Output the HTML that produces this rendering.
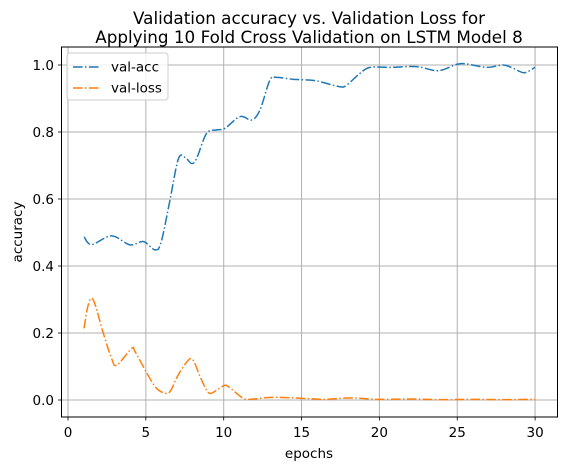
<!DOCTYPE html>
<html><head><meta charset="utf-8"><style>
html,body{margin:0;padding:0;background:#fff;}
svg text{font-family:"DejaVu Sans","Liberation Sans",sans-serif;}
</style></head><body>
<svg id="chart" width="570" height="470" xmlns="http://www.w3.org/2000/svg">
<rect x="0" y="0" width="570" height="470" fill="#fff"/>
<g id="grid"></g>
<g id="series"></g>
<rect x="61.5" y="47" width="496" height="370" fill="none" stroke="#000" stroke-width="1"/>
<g id="ticks"></g>
<text x="309" y="24" font-size="16.8" text-anchor="middle">Validation accuracy vs. Validation Loss for</text>
<text x="309" y="43" font-size="16.8" text-anchor="middle">Applying 10 Fold Cross Validation on LSTM Model 8</text>
<text x="309" y="458" font-size="13.5" text-anchor="middle">epochs</text>
<text x="22" y="232" font-size="13.5" text-anchor="middle" transform="rotate(-90 22 232)">accuracy</text>
<g>
<rect x="67" y="53" width="101" height="47" rx="3" fill="#fff" fill-opacity="0.8" stroke="#ccc"/>
<line x1="73" y1="67" x2="101" y2="67" stroke="#1f77b4" stroke-width="1.5" stroke-dasharray="9.6 2.4 1.5 2.4"/>
<text x="111" y="71.5" font-size="13.5">val-acc</text>
<line x1="73" y1="88" x2="101" y2="88" stroke="#ff7f0e" stroke-width="1.5" stroke-dasharray="9.6 2.4 1.5 2.4"/>
<text x="111" y="92.5" font-size="13.5">val-loss</text>
</g>
</svg>
<script>
const accEpochs=[1.03,1.52,2.8,3.98,4.84,5.6,5.99,6.55,7.09,7.52,7.94,8.26,8.9,9.54,10.08,11.05,11.8,12.33,12.97,13.4,14.5,15.56,16.2,17.47,17.9,18.75,19.4,20.7,22.4,23.77,24.96,25.6,26.9,27.95,28.6,29.3,30];
const accValues=[0.487,0.464,0.49,0.463,0.473,0.448,0.473,0.597,0.72,0.724,0.706,0.721,0.796,0.806,0.811,0.846,0.836,0.866,0.955,0.963,0.957,0.955,0.950,0.935,0.94,0.975,0.993,0.993,0.995,0.983,1.002,1.003,0.993,1.0,0.99,0.977,0.993];
const lossEpochs=[1.03,1.3,1.63,2.27,2.8,3.13,4.09,4.3,4.95,5.59,6.12,6.55,7.08,7.73,8.05,8.48,8.9,9.2,9.97,10.3,11.26,11.9,13.19,15.5,16.5,18.1,20,22,24,26,28,30];
const lossValues=[0.214,0.284,0.298,0.199,0.124,0.104,0.154,0.145,0.09,0.04,0.022,0.025,0.075,0.119,0.118,0.07,0.03,0.02,0.042,0.04,0.005,0.003,0.008,0.004,0.002,0.006,0.002,0.003,0.001,0.002,0.001,0.002];
const xTicks=[0,5,10,15,20,25,30];
const yTicks=[0.0,0.2,0.4,0.6,0.8,1.0];
const yTickLabels=["0.0","0.2","0.4","0.6","0.8","1.0"];
const NS="http://www.w3.org/2000/svg";
function xs(v){return 68+v*15.57;}
function ys(v){return 400-v*335;}
function mk(tag,attrs,parent){const e=document.createElementNS(NS,tag);for(const k in attrs)e.setAttribute(k,attrs[k]);parent.appendChild(e);return e;}
const grid=document.getElementById('grid'),ticks=document.getElementById('ticks'),series=document.getElementById('series');
xTicks.forEach(t=>{const x=xs(t);
 const g=mk('line',{x1:x,x2:x,y1:47,y2:417,stroke:'#b0b0b0','stroke-width':1},grid);
 
 
 const tk=mk('line',{x1:x,x2:x,y1:417,y2:420.5,stroke:'#000','stroke-width':0.8},ticks);
 
 
 const tx=mk('text',{x:x,y:437,'font-size':13.5,'text-anchor':'middle'},ticks);tx.textContent=String(t);
 
 
});
yTicks.forEach((t,i)=>{const y=ys(t);
 const g=mk('line',{x1:61.5,x2:557.5,y1:y,y2:y,stroke:'#b0b0b0','stroke-width':1},grid);
 
 
 const tk=mk('line',{x1:58,x2:61.5,y1:y,y2:y,stroke:'#000','stroke-width':0.8},ticks);
 
 
 const tx=mk('text',{x:54,y:y+5,'font-size':13.5,'text-anchor':'end'},ticks);tx.textContent=yTickLabels[i];
 
 
});
function smoothPath(ex,vals){
 const p=ex.map((e,i)=>[xs(e),ys(vals[i])]);
 let d='M'+p[0][0]+','+p[0][1];
 for(let i=0;i<p.length-1;i++){
  const p0=p[Math.max(0,i-1)],p1=p[i],p2=p[i+1],p3=p[Math.min(p.length-1,i+2)];
  const c1=[p1[0]+(p2[0]-p0[0])/6,p1[1]+(p2[1]-p0[1])/6];
  const c2=[p2[0]-(p3[0]-p1[0])/6,p2[1]-(p3[1]-p1[1])/6];
  d+=' C'+c1[0]+','+c1[1]+' '+c2[0]+','+c2[1]+' '+p2[0]+','+p2[1];
 }
 return d;
}
const a=mk('path',{d:smoothPath(accEpochs,accValues),fill:'none',stroke:'#1f77b4','stroke-width':1.5,'stroke-dasharray':'9.6 2.4 1.5 2.4'},series);


const l=mk('path',{d:smoothPath(lossEpochs,lossValues),fill:'none',stroke:'#ff7f0e','stroke-width':1.5,'stroke-dasharray':'9.6 2.4 1.5 2.4'},series);


</script>
</body></html>
